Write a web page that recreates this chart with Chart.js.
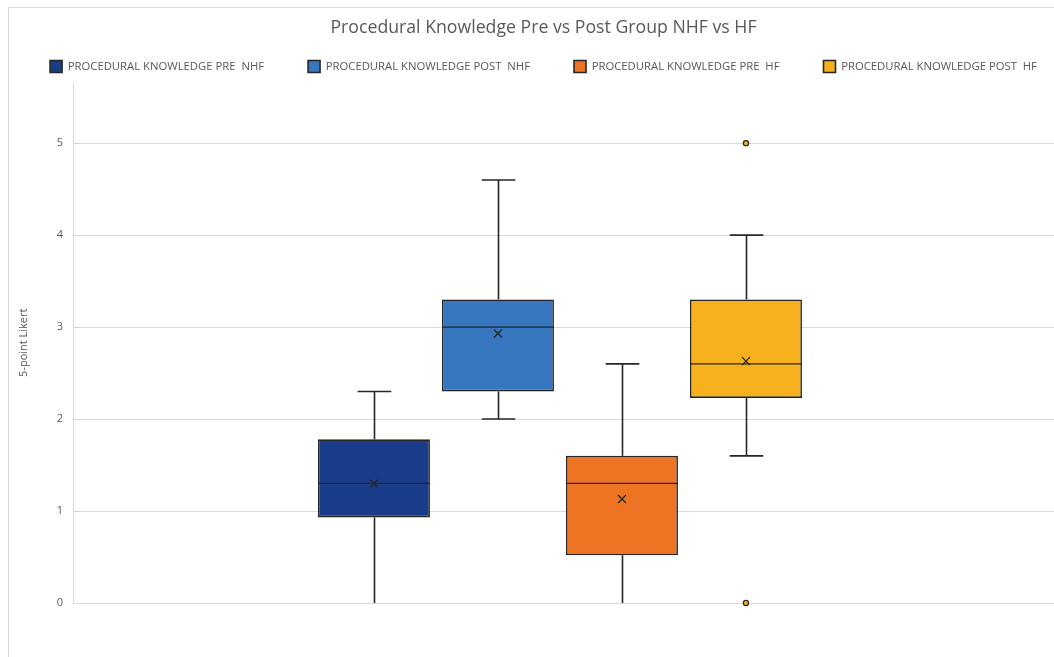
<!DOCTYPE html>
<html>
<head>
<meta charset="utf-8">
<title>Procedural Knowledge Pre vs Post Group NHF vs HF</title>
<script src="https://cdn.jsdelivr.net/npm/chart.js@4/dist/chart.umd.min.js"></script>
<style>
  html, body { margin: 0; padding: 0; background: #ffffff; }
  #wrap { position: relative; width: 1054px; height: 657px; }
</style>
</head>
<body>
<div id="wrap"><canvas id="chart" width="1054" height="657"></canvas></div>
<script>
// Series (one box per series, all in a single group)
const seriesNames = [
  'PROCEDURAL KNOWLEDGE PRE  NHF',
  'PROCEDURAL KNOWLEDGE POST  NHF',
  'PROCEDURAL KNOWLEDGE PRE  HF',
  'PROCEDURAL KNOWLEDGE POST  HF'
];
const seriesColors = ['#1a3d8b', '#3677bf', '#ee7323', '#f6b11c'];
const positions = [1, 2, 3, 4];

// Five-number summaries, means and outliers on the 5-point Likert scale
const q1 = [0.93, 2.30, 0.52, 2.23];
const q3 = [1.78, 3.30, 1.60, 3.30];
const medians = [1.30, 3.00, 1.30, 2.60];
const means = [1.30, 2.93, 1.13, 2.63];
const whiskerLow = [0.00, 2.00, 0.00, 1.60];
const whiskerHigh = [2.30, 4.60, 2.60, 4.00];
const outliers = [[], [], [], [5.0, 0.0]];

const yTicks = [0, 1, 2, 3, 4, 5];

const textColor = '#595959';
const gridColor = '#d9d9d9';
const lineColor = '#262626';
const fontFamily = "'Open Sans', 'DejaVu Sans', sans-serif";

// Chart frame and white background
const framePlugin = {
  id: 'frame',
  beforeDraw(chart) {
    const { ctx, width, height } = chart;
    ctx.save();
    ctx.fillStyle = '#ffffff';
    ctx.fillRect(0, 0, width, height);
    ctx.strokeStyle = gridColor;
    ctx.lineWidth = 1;
    ctx.strokeRect(8.5, 7.5, width + 20, height + 20);
    ctx.restore();
  }
};

// Whiskers, caps, median line, mean marker and outlier points for each box
const boxPartsPlugin = {
  id: 'boxParts',
  afterDatasetsDraw(chart) {
    const { ctx } = chart;
    const y = chart.scales.y;
    ctx.save();
    chart.data.datasets.forEach((ds, i) => {
      const meta = chart.getDatasetMeta(i);
      if (!chart.isDatasetVisible(i)) return;
      const bar = meta.data[0];
      const cx = Math.round(bar.x) + 0.5;
      const half = bar.width / 2;
      const capHalf = bar.width * 0.15;
      const seg = (x1, y1, x2, y2) => {
        ctx.beginPath();
        ctx.moveTo(x1, y1);
        ctx.lineTo(x2, y2);
        ctx.stroke();
      };
      ctx.strokeStyle = lineColor;
      ctx.lineWidth = 1.6;

      const yQ1 = y.getPixelForValue(q1[i]);
      const yQ3 = y.getPixelForValue(q3[i]);
      const yLo = y.getPixelForValue(whiskerLow[i]);
      const yHi = y.getPixelForValue(whiskerHigh[i]);

      // upper whisker and cap
      seg(cx, yQ3, cx, yHi);
      seg(cx - capHalf, yHi, cx + capHalf, yHi);
      // lower whisker and cap
      seg(cx, yQ1, cx, yLo);
      if (whiskerLow[i] > y.min) seg(cx - capHalf, yLo, cx + capHalf, yLo);

      // median
      ctx.lineWidth = 1.3;
      const yMed = y.getPixelForValue(medians[i]);
      seg(bar.x - half, yMed, bar.x + half, yMed);

      // mean marker (x)
      const yMean = y.getPixelForValue(means[i]);
      const m = 4;
      ctx.lineWidth = 1.3;
      seg(bar.x - m, yMean - m, bar.x + m, yMean + m);
      seg(bar.x - m, yMean + m, bar.x + m, yMean - m);

      // outliers
      outliers[i].forEach(v => {
        ctx.beginPath();
        ctx.arc(bar.x, y.getPixelForValue(v), 2.6, 0, Math.PI * 2);
        ctx.fillStyle = seriesColors[i];
        ctx.fill();
        ctx.lineWidth = 1.2;
        ctx.strokeStyle = lineColor;
        ctx.stroke();
      });
    });
    ctx.restore();
  }
};

const datasets = seriesNames.map((name, i) => ({
  label: name,
  data: [{ x: positions[i], y: [q1[i], q3[i]] }],
  backgroundColor: seriesColors[i],
  borderColor: lineColor,
  borderWidth: 1.6,
  borderSkipped: false,
  grouped: false,
  barPercentage: 0.903,
  categoryPercentage: 1.0
}));

new Chart(document.getElementById('chart'), {
  type: 'bar',
  data: { datasets },
  plugins: [framePlugin, boxPartsPlugin],
  options: {
    responsive: false,
    animation: false,
    devicePixelRatio: 1,
    layout: { padding: { left: 0, right: -33, top: 0, bottom: 54 } },
    plugins: {
      title: {
        display: true,
        text: 'Procedural Knowledge Pre vs Post Group NHF vs HF',
        color: textColor,
        font: { family: fontFamily, size: 17.7, weight: 'normal' },
        padding: { top: 17.5, bottom: -22.3 }
      },
      legend: {
        display: true,
        position: 'top',
        labels: {
          color: textColor,
          font: { family: fontFamily, size: 11.3 },
          boxWidth: 12,
          boxHeight: 12,
          padding: 44
        }
      },
      tooltip: { enabled: false }
    },
    scales: {
      x: {
        type: 'linear',
        display: false,
        offset: false,
        min: -1.427,
        max: 6.484,
        afterBuildTicks(scale) {
          scale.ticks = positions.map(v => ({ value: v }));
        }
      },
      y: {
        type: 'linear',
        min: 0,
        max: 5.66,
        afterFit(scale) { scale.width = 73; },
        afterBuildTicks(scale) {
          scale.ticks = yTicks.map(v => ({ value: v }));
        },
        ticks: {
          color: textColor,
          font: { family: fontFamily, size: 11 },
          padding: 10,
          stepSize: 1
        },
        grid: { color: gridColor, lineWidth: 1, drawTicks: false },
        border: { display: true, color: gridColor, width: 1 },
        title: {
          display: true,
          text: '5-point Likert',
          color: textColor,
          font: { family: fontFamily, size: 11 },
          padding: { top: 17, bottom: 0 }
        }
      }
    }
  }
});
</script>
</body>
</html>
